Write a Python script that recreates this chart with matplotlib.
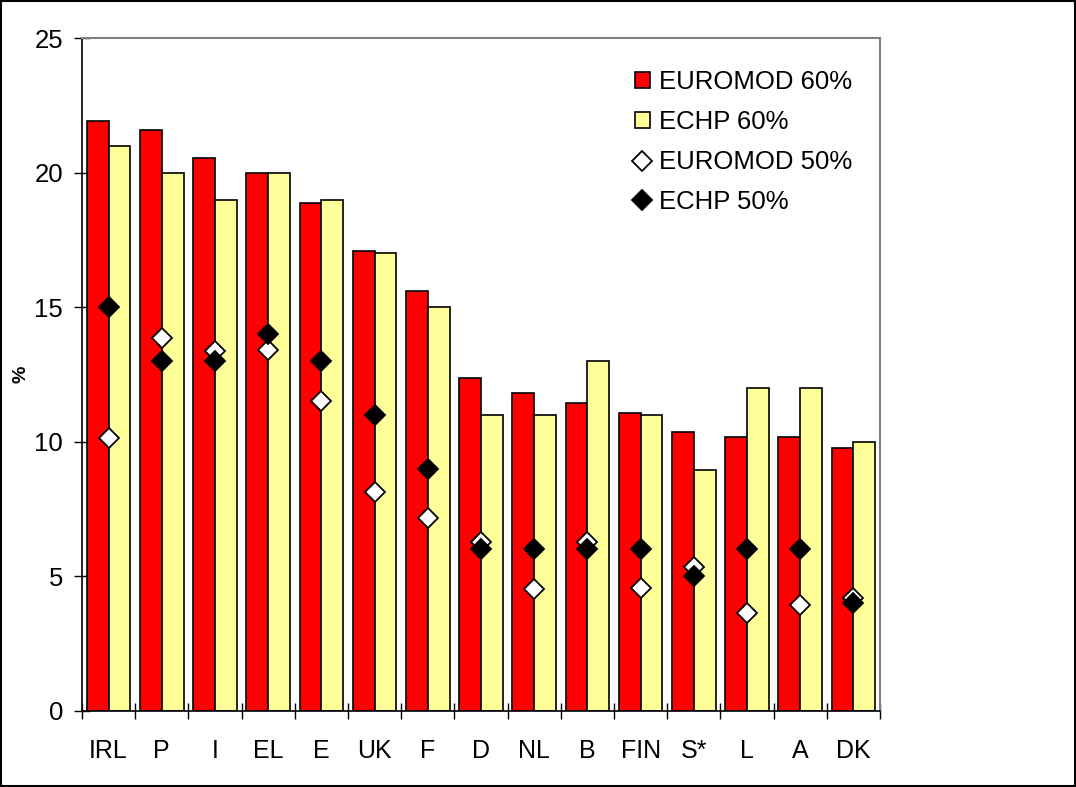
import numpy as np
import matplotlib
matplotlib.use("Agg")
import matplotlib.pyplot as plt
from matplotlib.patches import Rectangle
from matplotlib.ticker import FixedLocator

# poverty rates by country (%)
countries = ["IRL", "P", "I", "EL", "E", "UK", "F", "D", "NL", "B", "FIN", "S*", "L", "A", "DK"]
euromod_60 = [21.9, 21.6, 20.55, 20.0, 18.87, 17.1, 15.6, 12.37, 11.8, 11.43, 11.06, 10.38, 10.19, 10.19, 9.76]
echp_60 = [21.0, 20.0, 19.0, 20.0, 19.0, 17.0, 15.0, 11.0, 11.0, 13.0, 11.0, 8.95, 12.0, 12.0, 10.0]
euromod_50 = [10.14, 13.85, 13.37, 13.41, 11.5, 8.12, 7.17, 6.29, 4.52, 6.29, 4.56, 5.34, 3.63, 3.94, 4.19]
echp_50 = [15.0, 13.0, 13.0, 14.0, 13.0, 11.0, 9.0, 6.0, 6.0, 6.0, 6.0, 5.0, 6.0, 6.0, 4.0]

plt.rcParams["font.family"] = ["Liberation Sans", "DejaVu Sans"]

fig = plt.figure(figsize=(10.76, 7.87), dpi=100)
ax = fig.add_axes([0.0762, 0.0966, 0.7416, 0.8551])

x = np.arange(len(countries))
w = 0.41
b1 = ax.bar(x - w / 2, euromod_60, width=w, color="#FF0000", edgecolor="black", linewidth=1.2,
            label="EUROMOD 60%", zorder=2)
b2 = ax.bar(x + w / 2, echp_60, width=w, color="#FFFF99", edgecolor="black", linewidth=1.2,
            label="ECHP 60%", zorder=2)
m1, = ax.plot(x, euromod_50, linestyle="none", marker="D", markersize=10.5, markerfacecolor="white",
              markeredgecolor="black", markeredgewidth=1.3, label="EUROMOD 50%", zorder=3)
m2, = ax.plot(x, echp_50, linestyle="none", marker="D", markersize=10.5, markerfacecolor="black",
              markeredgecolor="black", markeredgewidth=1.3, label="ECHP 50%", zorder=4)

ax.set_xlim(-0.5, len(countries) - 0.5)
ax.set_ylim(0, 25)
ax.set_yticks([0, 5, 10, 15, 20, 25])
ax.tick_params(axis="y", direction="inout", length=11.5, width=1, labelsize=18.5, pad=8)
ax.set_xticks(x)
ax.set_xticklabels(countries)
ax.tick_params(axis="x", which="major", length=0, labelsize=18, pad=20)
ax.xaxis.set_minor_locator(FixedLocator(np.arange(-0.5, len(countries), 1.0)))
ax.tick_params(axis="x", which="minor", direction="inout", length=11.5, width=1)

ax.spines["top"].set_color("#808080")
ax.spines["right"].set_color("#808080")
ax.spines["top"].set_linewidth(1.5)
ax.spines["right"].set_linewidth(1.5)
ax.spines["left"].set_linewidth(1.2)
ax.spines["bottom"].set_linewidth(1.2)

ax.set_ylabel("%", fontsize=14, fontweight="bold", labelpad=3)

ax.legend([b1, b2, m1, m2], ["EUROMOD 60%", "ECHP 60%", "EUROMOD 50%", "ECHP 50%"],
          loc="upper left", bbox_to_anchor=(0.6925, 0.952), frameon=False, fontsize=18.5,
          handlelength=0.6, handleheight=0.6, handletextpad=0.36, labelspacing=0.62,
          borderaxespad=0, borderpad=0)

fig.patches.append(Rectangle((0.001, 0.001), 0.998, 0.998, transform=fig.transFigure,
                             fill=False, edgecolor="black", linewidth=1.5))

fig.savefig("out.png", dpi=100)
